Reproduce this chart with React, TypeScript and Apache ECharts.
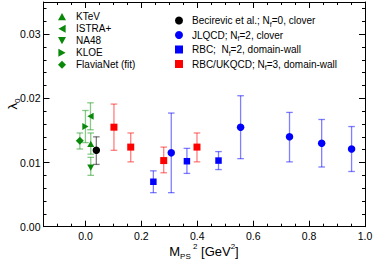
import React, { useEffect, useRef } from "react";
import * as echarts from "echarts";

// Axis ranges and ticks
const X_MIN = -0.15;
const X_MAX = 1.0;
const Y_MIN = 0;
const Y_MAX = 0.035;
const xMajor = [0, 0.2, 0.4, 0.6, 0.8, 1.0];
const xMinor = [-0.15, -0.1, -0.05, 0.05, 0.1, 0.15, 0.25, 0.3, 0.35, 0.45, 0.5, 0.55, 0.65, 0.7, 0.75, 0.85, 0.9, 0.95];
const yMajor = [0, 0.01, 0.02, 0.03];
const yMinor = [0.002, 0.004, 0.006, 0.008, 0.012, 0.014, 0.016, 0.018, 0.022, 0.024, 0.026, 0.028, 0.032, 0.034];

// Experimental points (x, central, lower, upper)
const ktevX = [0.019];
const ktevY = [0.0129];
const ktevLo = [0.0113];
const ktevHi = [0.0146];

const istraX = [0.018];
const istraY = [0.0172];
const istraLo = [0.0151];
const istraHi = [0.0193];

const na48X = [0.019];
const na48Y = [0.0092];
const na48Lo = [0.0080];
const na48Hi = [0.0108];

const kloeX = [0.0];
const kloeY = [0.0156];
const kloeLo = [0.0131];
const kloeHi = [0.0181];

const flaviaX = [-0.02];
const flaviaY = [0.0134];
const flaviaLo = [0.0121];
const flaviaHi = [0.0146];

// Lattice points
const becX = [0.039];
const becY = [0.0119];
const becLo = [0.0097];
const becHi = [0.0140];

const jlqcdX = [0.307, 0.555, 0.73, 0.845, 0.952];
const jlqcdY = [0.0115, 0.0155, 0.014, 0.013, 0.0121];
const jlqcdLo = [0.0053, 0.0106, 0.0101, 0.0093, 0.0086];
const jlqcdHi = [0.0177, 0.0204, 0.0178, 0.0167, 0.0156];

const rbcX = [0.243, 0.363, 0.476];
const rbcY = [0.007, 0.0102, 0.0103];
const rbcLo = [0.0053, 0.0083, 0.0089];
const rbcHi = [0.0087, 0.0122, 0.0117];

const ukX = [0.102, 0.162, 0.28, 0.399];
const ukY = [0.0155, 0.0124, 0.0103, 0.0124];
const ukLo = [0.0119, 0.0101, 0.0084, 0.0101];
const ukHi = [0.0191, 0.0146, 0.0124, 0.0146];

const leftNames = ["KTeV", "ISTRA+", "NA48", "KLOE", "FlaviaNet (fit)"];
const rightNames = [
  "Becirevic et al.; N_f=0, clover",
  "JLQCD; N_f=2, clover",
  "RBC;  N_f=2, domain-wall",
  "RBC/UKQCD; N_f=3, domain-wall",
];

const GREEN = "#0a880a";
const GREEN_BAR = "rgba(20,150,20,0.5)";
const BLUE = "#0000ff";
const BLUE_BAR = "rgba(0,0,255,0.5)";
const RED = "#ff0000";
const RED_BAR = "rgba(255,0,0,0.5)";
const BLACK = "#000000";
const BLACK_BAR = "rgba(0,0,0,0.5)";

const TRI_UP = "path://M5,0 L10,9 L0,9 Z";
const TRI_LEFT = "path://M0,5 L9,0 L9,10 Z";
const TRI_DOWN = "path://M0,0 L10,0 L5,9 Z";
const TRI_RIGHT = "path://M0,0 L9,5 L0,10 Z";

const FONT = "Liberation Sans, Arial, Helvetica, sans-serif";

function zipPts(xs: number[], ys: number[]) {
  return xs.map((x, i) => [x, ys[i]]);
}
function zipErr(xs: number[], lo: number[], hi: number[]) {
  return xs.map((x, i) => [x, lo[i], hi[i]]);
}

function errSeries(xs: number[], lo: number[], hi: number[], color: string) {
  return {
    type: "custom",
    silent: true,
    z: 1,
    xAxisIndex: 0,
    yAxisIndex: 0,
    data: zipErr(xs, lo, hi),
    encode: { x: 0, y: [1, 2] },
    renderItem: (params: any, api: any) => {
      const x = api.value(0);
      const pLo = api.coord([x, api.value(1)]);
      const pHi = api.coord([x, api.value(2)]);
      const w = 3.3;
      const style = { stroke: color, lineWidth: 1.3 };
      return {
        type: "group",
        children: [
          { type: "line", shape: { x1: pHi[0], y1: pHi[1], x2: pLo[0], y2: pLo[1] }, style },
          { type: "line", shape: { x1: pHi[0] - w, y1: pHi[1], x2: pHi[0] + w, y2: pHi[1] }, style },
          { type: "line", shape: { x1: pLo[0] - w, y1: pLo[1], x2: pLo[0] + w, y2: pLo[1] }, style },
        ],
      };
    },
  };
}

function ptSeries(name: string, xs: number[], ys: number[], color: string, symbol: string, size: number) {
  return {
    type: "scatter",
    name,
    z: 3,
    xAxisIndex: 0,
    yAxisIndex: 0,
    data: zipPts(xs, ys),
    symbol,
    symbolSize: size,
    symbolKeepAspect: true,
    itemStyle: { color, opacity: 1 },
  };
}

function tickAxis(kind: "x" | "y", position: string, values: number[], len: number, labels: boolean, line: boolean) {
  const isX = kind === "x";
  return {
    type: "value",
    position,
    min: isX ? X_MIN : Y_MIN,
    max: isX ? X_MAX : Y_MAX,
    splitLine: { show: false },
    axisLine: { show: line, onZero: false, lineStyle: { color: "#000", width: 1 } },
    axisTick: { show: true, inside: true, length: len, customValues: values, lineStyle: { color: "#000", width: 1 } },
    axisLabel: labels
      ? {
          show: true,
          customValues: values,
          formatter: (v: number) => (isX ? v.toFixed(1) : v.toFixed(2)),
          color: "#000",
          fontSize: 10.5,
          fontFamily: FONT,
          margin: isX ? 4 : 3,
        }
      : { show: false },
  };
}

export default function App() {
  const ref = useRef<HTMLDivElement>(null);
  useEffect(() => {
    document.body.style.margin = "0";
    const chart = echarts.init(ref.current!, null, { renderer: "svg" });
    const option: any = {
      animation: false,
      backgroundColor: "#fff",
      grid: { left: 43.5, right: 9, top: 2, bottom: 34.3, outerBoundsMode: "none" },
      xAxis: [
        tickAxis("x", "bottom", xMajor, 6, true, true),
        tickAxis("x", "bottom", xMinor, 3, false, false),
        tickAxis("x", "top", xMajor, 6, false, true),
        tickAxis("x", "top", xMinor, 3, false, false),
      ],
      yAxis: [
        tickAxis("y", "left", yMajor, 6, true, true),
        tickAxis("y", "left", yMinor, 3, false, false),
        tickAxis("y", "right", yMajor, 6, false, true),
        tickAxis("y", "right", yMinor, 3, false, false),
      ],
      legend: [
        {
          orient: "vertical",
          left: 58,
          top: 10.7,
          padding: 0,
          itemGap: 0,
          itemWidth: 8,
          itemHeight: 8,
          selectedMode: false,
          data: leftNames,
          textStyle: { fontSize: 10, fontFamily: FONT, color: "#000", lineHeight: 12, padding: [0, 0, 0, 5] },
        },
        {
          orient: "vertical",
          left: 175,
          top: 13.5,
          padding: 0,
          itemGap: 0.5,
          itemWidth: 8,
          itemHeight: 8,
          selectedMode: false,
          data: rightNames,
          formatter: (name: string) => {
            const parts = name.split("N_f");
            return "{b|" + parts[0] + "N}{s|f}{b|" + parts[1] + "}";
          },
          textStyle: {
            fontSize: 10,
            fontFamily: FONT,
            color: "#000",
            lineHeight: 14,
            padding: [0, 0, 0, 4],
            rich: {
              b: { fontSize: 10, fontFamily: FONT, color: "#000", lineHeight: 14 },
              s: { fontSize: 7, fontFamily: FONT, color: "#000", verticalAlign: "bottom" },
            },
          },
        },
      ],
      graphic: [
        {
          type: "text",
          x: 12,
          y: 104,
          rotation: Math.PI / 2,
          style: {
            text: "{a|λ}{b|0}",
            align: "center",
            verticalAlign: "middle",
            rich: {
              a: { fontSize: 13, fontFamily: FONT, fill: "#000", lineHeight: 18 },
              b: { fontSize: 8, fontFamily: FONT, fill: "#000", verticalAlign: "bottom" },
            },
          },
        },
        {
          type: "text",
          x: 204,
          y: 251,
          style: {
            text: "{b|M}{sub|PS}{sup| 2}{b| [GeV}{sup|2}{b|]}",
            align: "center",
            verticalAlign: "middle",
            rich: {
              b: { fontSize: 13, fontFamily: FONT, fill: "#000", lineHeight: 18 },
              sub: { fontSize: 8, fontFamily: FONT, fill: "#000", verticalAlign: "bottom", lineHeight: 9 },
              sup: { fontSize: 8, fontFamily: FONT, fill: "#000", verticalAlign: "top", lineHeight: 9 },
            },
          },
        },
      ],
      series: [
        errSeries(flaviaX, flaviaLo, flaviaHi, GREEN_BAR),
        errSeries(kloeX, kloeLo, kloeHi, GREEN_BAR),
        errSeries(istraX, istraLo, istraHi, GREEN_BAR),
        errSeries(ktevX, ktevLo, ktevHi, GREEN_BAR),
        errSeries(na48X, na48Lo, na48Hi, GREEN_BAR),
        errSeries(becX, becLo, becHi, BLACK_BAR),
        errSeries(jlqcdX, jlqcdLo, jlqcdHi, BLUE_BAR),
        errSeries(rbcX, rbcLo, rbcHi, BLUE_BAR),
        errSeries(ukX, ukLo, ukHi, RED_BAR),
        ptSeries(leftNames[0], ktevX, ktevY, GREEN, TRI_UP, 7),
        ptSeries(leftNames[1], istraX, istraY, GREEN, TRI_LEFT, 7),
        ptSeries(leftNames[2], na48X, na48Y, GREEN, TRI_DOWN, 7),
        ptSeries(leftNames[3], kloeX, kloeY, GREEN, TRI_RIGHT, 7),
        ptSeries(leftNames[4], flaviaX, flaviaY, GREEN, "diamond", 8),
        ptSeries(rightNames[0], becX, becY, BLACK, "circle", 7.5),
        ptSeries(rightNames[1], jlqcdX, jlqcdY, BLUE, "circle", 7.5),
        ptSeries(rightNames[2], rbcX, rbcY, BLUE, "rect", 6.5),
        ptSeries(rightNames[3], ukX, ukY, RED, "rect", 7),
      ],
    };
    chart.setOption(option);
    return () => chart.dispose();
  }, []);
  return <div ref={ref} style={{ width: 374, height: 261 }} />;
}
